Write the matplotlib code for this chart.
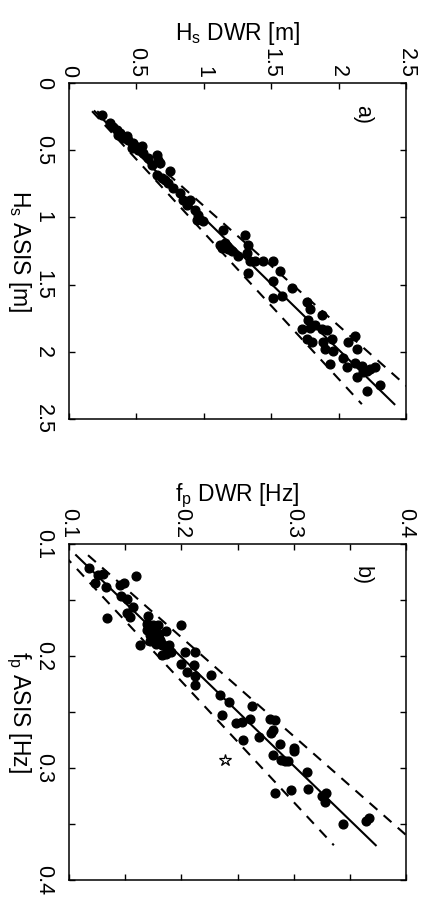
import numpy as np
import matplotlib
matplotlib.use("Agg")
import matplotlib.pyplot as plt

plt.rcParams['font.family'] = ['Liberation Sans', 'DejaVu Sans']
plt.rcParams['mathtext.fontset'] = 'custom'
plt.rcParams['mathtext.rm'] = 'Liberation Sans'
plt.rcParams['mathtext.default'] = 'rm'

# panel a) significant wave height, ASIS vs DWR [m]
hs_asis = [0.237, 0.324, 0.349, 0.373, 0.410, 0.423, 0.448, 0.485, 0.497, 0.472,
           0.522, 0.559, 0.608, 0.534, 0.571, 0.596, 0.682, 0.707, 0.720, 0.658,
           0.744, 0.781, 0.818, 0.868, 0.905, 0.868, 0.942, 0.979, 1.016, 1.029,
           1.091, 1.189, 1.226, 1.239, 1.251, 1.288, 1.128, 1.202, 1.264, 1.325,
           1.412, 1.325, 1.325, 1.325, 1.400, 1.474, 1.585, 1.597, 1.523, 1.630,
           1.684, 1.728, 1.763, 1.832, 1.820, 1.803, 1.832, 1.837, 1.902, 1.931,
           1.931, 1.976, 1.907, 1.993, 2.092, 2.043, 2.117, 1.931, 1.882, 1.976,
           2.085, 2.104, 2.191, 2.154, 2.141, 2.129, 2.117, 2.290, 2.248,
           1.214, 1.202, 0.299, 0.386, 0.398, 0.472]
hs_dwr = [0.242, 0.329, 0.354, 0.378, 0.403, 0.440, 0.477, 0.465, 0.514, 0.539,
          0.551, 0.589, 0.613, 0.650, 0.663, 0.675, 0.650, 0.687, 0.712, 0.749,
          0.737, 0.774, 0.823, 0.848, 0.873, 0.898, 0.935, 0.959, 0.947, 0.997,
          1.145, 1.157, 1.133, 1.182, 1.207, 1.256, 1.306, 1.330, 1.318, 1.343,
          1.330, 1.380, 1.442, 1.516, 1.565, 1.516, 1.578, 1.516, 1.652, 1.763,
          1.788, 1.874, 1.775, 1.726, 1.788, 1.825, 1.874, 1.911, 1.763, 1.800,
          1.887, 1.899, 1.949, 1.961, 1.936, 2.035, 2.060, 2.072, 2.122, 2.134,
          2.122, 2.171, 2.134, 2.183, 2.208, 2.233, 2.270, 2.208, 2.307,
          1.170, 1.120, 0.304, 0.366, 0.428, 0.490]
# regression line DWR = slope*ASIS + offset, and +/-10% bounds
fit_a = [1.02, -0.024]
range_a = [0.21, 2.39]

# panel b) peak frequency, ASIS vs DWR [Hz]
fp_asis = [0.121, 0.128, 0.127, 0.135, 0.138, 0.137, 0.135, 0.129, 0.146, 0.149,
           0.156, 0.166, 0.162, 0.165, 0.164, 0.171, 0.174, 0.177, 0.172, 0.181,
           0.180, 0.178, 0.187, 0.189, 0.190, 0.190, 0.172, 0.190, 0.199, 0.198,
           0.196, 0.196, 0.196, 0.207, 0.208, 0.214, 0.218, 0.217, 0.226, 0.235,
           0.241, 0.253, 0.260, 0.259, 0.256, 0.245, 0.275, 0.272, 0.256, 0.257,
           0.269, 0.266, 0.279, 0.282, 0.285, 0.288, 0.293, 0.294, 0.294, 0.304,
           0.322, 0.320, 0.319, 0.322, 0.325, 0.330, 0.350, 0.347, 0.345,
           0.178, 0.183, 0.177, 0.186, 0.172, 0.192]
fp_dwr = [0.118, 0.126, 0.130, 0.123, 0.133, 0.145, 0.149, 0.160, 0.146, 0.152,
          0.157, 0.134, 0.152, 0.154, 0.170, 0.169, 0.173, 0.176, 0.179, 0.172,
          0.180, 0.186, 0.172, 0.177, 0.183, 0.189, 0.200, 0.163, 0.183, 0.186,
          0.191, 0.203, 0.212, 0.200, 0.211, 0.205, 0.212, 0.226, 0.212, 0.234,
          0.242, 0.236, 0.249, 0.254, 0.261, 0.263, 0.255, 0.269, 0.279, 0.283,
          0.280, 0.282, 0.288, 0.300, 0.300, 0.282, 0.289, 0.292, 0.295, 0.312,
          0.283, 0.298, 0.313, 0.329, 0.325, 0.328, 0.344, 0.364, 0.367,
          0.174, 0.178, 0.169, 0.181, 0.175, 0.186]
# the one outlier drawn as an open star
star_asis = [0.293]
star_dwr = [0.239]
fit_b = [1.03, -0.007]
range_b = [0.11, 0.369]


def draw_panel(ax, asis, dwr, fit, rng, lims, ticks, labels, xlab, ylab, tag):
    # the figure is turned a quarter clockwise: DWR runs left->right, ASIS top->down
    x = np.linspace(rng[0], rng[1], 50)
    y = fit[0] * x + fit[1]
    ax.plot(y, x, color='k', lw=1.5)
    ax.plot(1.1 * y, x, color='k', lw=1.5, ls=(0, (5, 4)))
    ax.plot(0.9 * y, x, color='k', lw=1.5, ls=(0, (5, 4)))
    ax.plot(dwr, asis, 'o', color='k', ms=6.3)

    ax.set_xlim(lims)
    ax.set_ylim(lims[1], lims[0])
    ax.set_xticks(ticks, labels, rotation=-90)
    ax.set_yticks(ticks, labels, rotation=-90, va='center')
    ax.tick_params(direction='in', length=4, width=1, labelsize=15.5,
                   top=True, bottom=True, left=True, right=True,
                   labeltop=True, labelbottom=False)
    ax.tick_params(axis='y', pad=11)
    ax.tick_params(axis='x', pad=4)
    for s in ax.spines.values():
        s.set_linewidth(1.1)

    ax.xaxis.set_label_position('top')
    ax.set_xlabel(xlab, fontsize=16.5, labelpad=5)
    ax.set_ylabel(ylab, fontsize=16.5, rotation=-90, va='top', labelpad=0)
    ax.text(0.87, 0.905, tag, transform=ax.transAxes, rotation=-90,
            fontsize=15.5, ha='center', va='center')


fig = plt.figure(figsize=(4.21, 9.10), dpi=100)
ax_a = fig.add_axes([0.1639, 0.5396, 0.8005, 0.3692])
ax_b = fig.add_axes([0.1639, 0.0330, 0.8005, 0.3692])

draw_panel(ax_a, hs_asis, hs_dwr, fit_a, range_a, [0, 2.5],
           [0, 0.5, 1, 1.5, 2, 2.5], ['0', '0.5', '1', '1.5', '2', '2.5'],
           r'H$_s$ DWR [m]', r'H$_s$ ASIS [m]', 'a)')

draw_panel(ax_b, fp_asis, fp_dwr, fit_b, range_b, [0.1, 0.4],
           [0.1, 0.15, 0.2, 0.25, 0.3, 0.35, 0.4],
           ['0.1', '', '0.2', '', '0.3', '', '0.4'],
           r'f$_p$ DWR [Hz]', r'f$_p$ ASIS [Hz]', 'b)')
ax_b.plot(star_dwr, star_asis, '*', ms=9, mfc='none', mec='k', mew=0.9)

fig.savefig('out.png', dpi=100)
